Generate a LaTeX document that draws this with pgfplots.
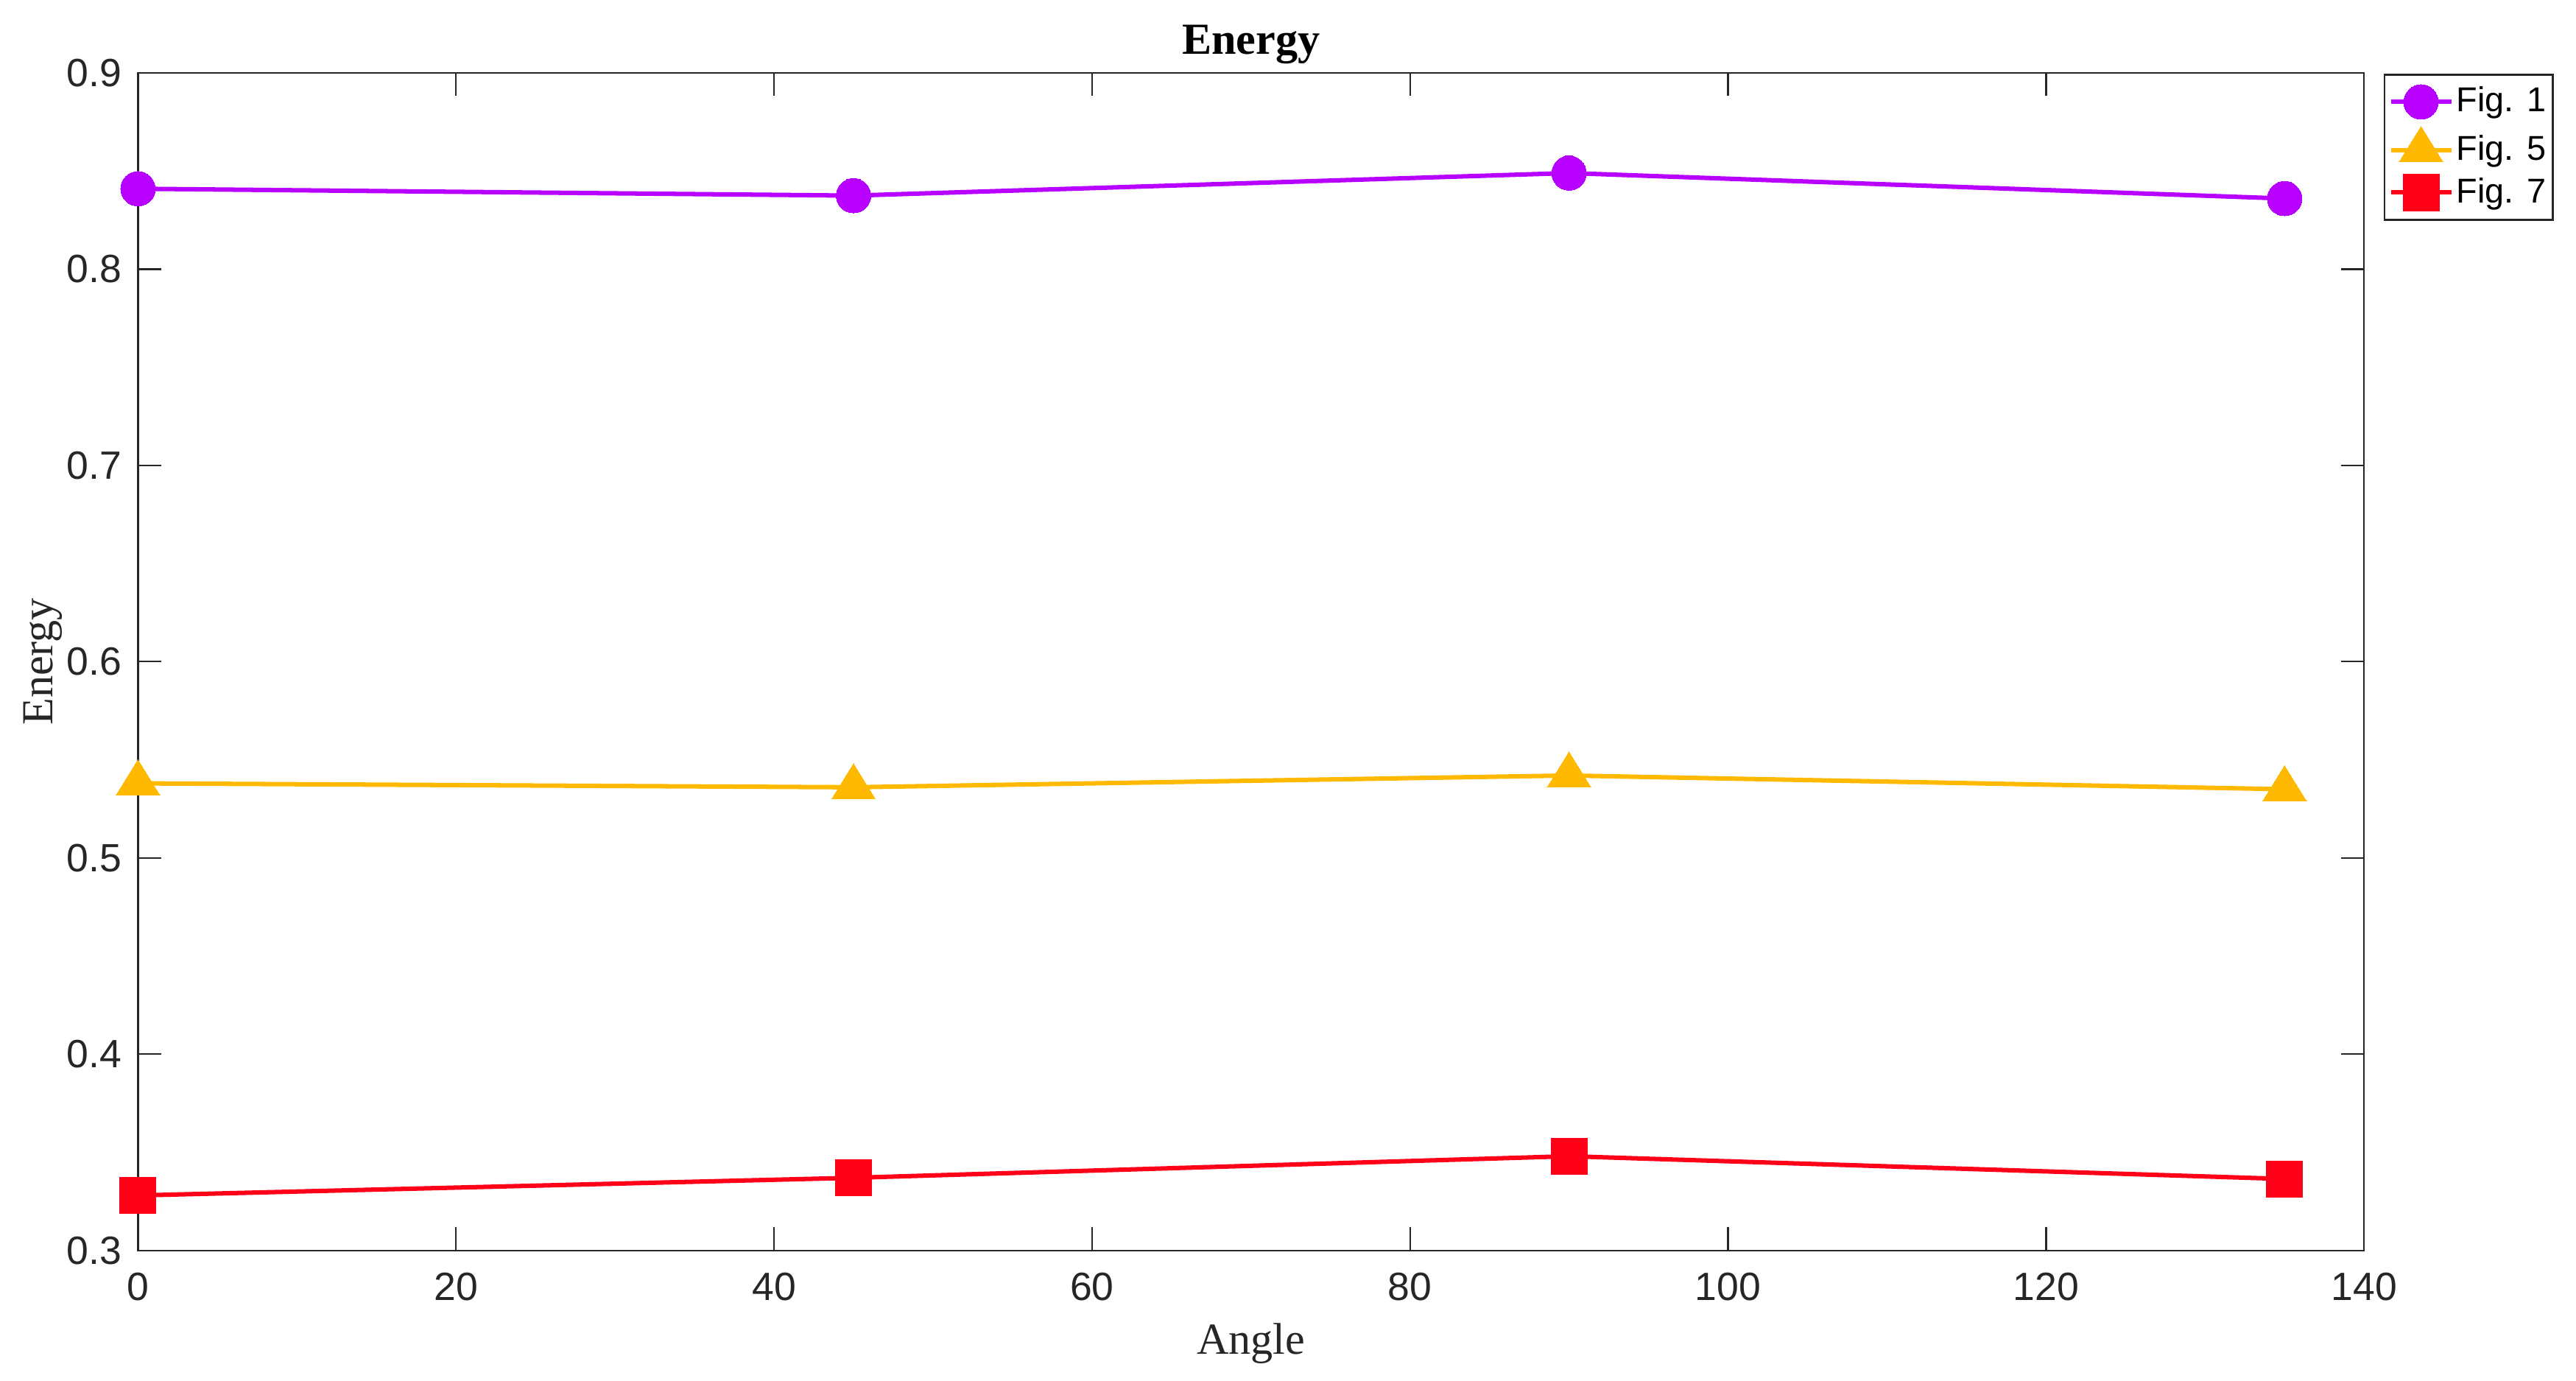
\documentclass[border=0pt]{standalone}
\usepackage{fontspec}
\setmainfont{Liberation Sans}
\newfontfamily\timesfont{Liberation Serif}
\usepackage{pgfplots}
\pgfplotsset{compat=1.18}
\definecolor{cpurple}{RGB}{183,0,255}
\definecolor{cyellow}{RGB}{254,185,0}
\definecolor{cred}{RGB}{255,0,25}
\definecolor{axgray}{RGB}{38,38,38}
\begin{document}
\begin{tikzpicture}
\useasboundingbox (0,0) rectangle (784bp,420.2bp);
\begin{axis}[
  at={(42bp,39.7bp)}, anchor=south west,
  scale only axis, width=677.5bp, height=358.3bp,
  xmin=0, xmax=140, ymin=0.3, ymax=0.9,
  xtick={0,20,40,60,80,100,120,140},
  ytick={0.3,0.4,0.5,0.6,0.7,0.8,0.9},
  tick align=inside, major tick length=7bp,
  axis line style={axgray, line width=0.5bp},
  every tick/.style={axgray, line width=0.5bp},
  tick label style={font=\fontsize{12bp}{14bp}\selectfont, text=axgray},
  /pgf/number format/assume math mode=true,
  yticklabel style={/pgf/number format/fixed, /pgf/number format/fixed zerofill, /pgf/number format/precision=1, xshift=-1.5bp},
  xticklabel style={yshift=-3.3bp},
  xlabel={Angle}, ylabel={Energy}, title={Energy},
  every axis title shift=0pt,
  xlabel style={font=\timesfont\fontsize{13.5bp}{16bp}\selectfont, text=axgray,
    at={(axis description cs:0.5,0)}, anchor=base, yshift=-31.5bp},
  ylabel style={font=\timesfont\fontsize{13.5bp}{16bp}\selectfont, text=axgray,
    at={(axis description cs:0,0.5)}, anchor=base, yshift=25.9bp},
  title style={font=\timesfont\bfseries\fontsize{13.5bp}{16bp}\selectfont, text=black,
    at={(axis description cs:0.5,1)}, anchor=base, yshift=5.8bp},
  clip=false,
  legend style={at={(axis description cs:1,1)}, anchor=north west,
    xshift=6bp, yshift=-0.3bp, draw=axgray, line width=0.5bp, fill=white,
    font=\fontsize{10.5bp}{12.5bp}\selectfont, inner xsep=1.2bp, inner ysep=2.8bp,
    row sep=2bp,
    nodes={inner sep=0.9bp, anchor=west}},
  legend cell align=left,
  legend image code/.code={\draw[mark repeat=2,mark phase=2] plot coordinates {(0cm,0cm) (0.325cm,0cm) (0.65cm,0cm)};},
]
\addplot[cpurple, line width=1.35bp, mark=*, mark size=5.25bp, mark options={solid, fill=cpurple, draw=cpurple, line width=0bp}]
  coordinates {(0,0.841) (45,0.8375) (90,0.849) (135,0.836)};
\addlegendentry{Fig. 1}
\addplot[cyellow, line width=1.35bp, mark=triangle*, mark size=7.2bp, mark options={solid, fill=cyellow, draw=cyellow, line width=0bp, xscale=1.07}]
  coordinates {(0,0.538) (45,0.536) (90,0.542) (135,0.535)};
\addlegendentry{Fig. 5}
\addplot[cred, line width=1.35bp, mark=square*, mark size=5.5bp, mark options={solid, fill=cred, draw=cred, line width=0bp}]
  coordinates {(0,0.328) (45,0.337) (90,0.348) (135,0.3364)};
\addlegendentry{Fig. 7}
\end{axis}
\end{tikzpicture}
\end{document}
